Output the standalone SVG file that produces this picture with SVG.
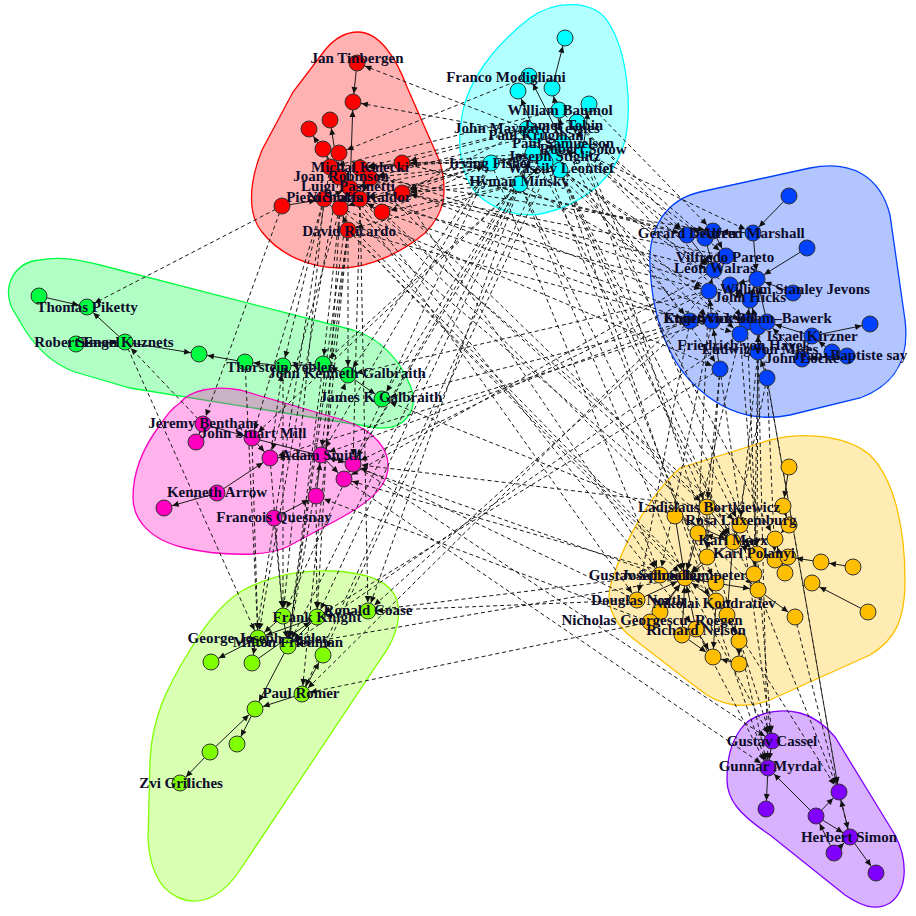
<svg xmlns="http://www.w3.org/2000/svg" width="916" height="916" viewBox="0 0 916 916">
<style>
.hull{stroke-width:1.3}
.e{stroke:#1a1a1a;stroke-width:1;fill:none;marker-end:url(#a)}
.d{stroke:#1a1a1a;stroke-width:1;stroke-dasharray:4 3;fill:none;marker-end:url(#a)}
.n circle{stroke:#333;stroke-width:1}
.R{fill:#FF0000}.O{fill:#FFBF00}.L{fill:#80FF00}.G{fill:#00FF40}.C{fill:#00FFFF}.B{fill:#0040FF}.P{fill:#8000FF}.K{fill:#FF00BF}
text{font-family:"Liberation Serif","Times New Roman",serif;font-weight:bold;font-size:15px;fill:#0d0d2b;text-anchor:middle}
</style>
<defs>
<marker id="a" viewBox="-16 -4 16 8" refX="0" refY="0" markerWidth="16" markerHeight="8" markerUnits="userSpaceOnUse" orient="auto"><path d="M-15,-3 L-8.5,0 L-15,3 Z" fill="#111"/></marker>
</defs>
<rect width="916" height="916" fill="#fff"/>
<g id="hulls">
<path id="hull-red" class="hull" fill="#FF0000" fill-opacity="0.3" stroke="#FF0000" d="M358,32 C345,32 335,38 325,50 L293,92 L262,150 C248,185 248,215 262,232 C280,255 310,268 340,268 C372,268 405,250 425,233 C445,213 448,192 440,162 L407,87 C395,55 378,32 358,32 Z"/>
<path id="hull-cyan" class="hull" fill="#00FFFF" fill-opacity="0.3" stroke="#00FFFF" d="M462,115 C468,80 495,45 530,18 C555,0 595,-2 610,25 C628,55 632,110 625,140 C615,180 580,205 545,213 C520,219 495,210 478,195 C460,175 457,145 462,115 Z"/>
<path id="hull-blue" class="hull" fill="#0040FF" fill-opacity="0.3" stroke="#0040FF" d="M650,265 C648,230 665,200 700,192 L810,168 C850,160 880,175 890,215 L905,320 C910,360 895,385 860,398 L790,415 C755,422 725,412 700,390 C670,365 652,320 650,265 Z"/>
<path id="hull-green" class="hull" fill="#00FF40" fill-opacity="0.3" stroke="#00FF40" d="M40,260 C60,256 80,260 100,265 L353,330 C380,338 400,360 410,385 C420,410 405,430 378,428 L130,388 L75,372 C55,365 38,350 25,330 L12,308 C2,285 15,262 40,260 Z"/>
<path id="hull-pink" class="hull" fill="#FF00BF" fill-opacity="0.3" stroke="#FF00BF" d="M180,403 C190,390 215,385 240,390 L343,420 C375,430 390,450 388,470 C385,490 365,505 337,520 L287,547 C265,557 220,556 185,548 C150,540 133,520 133,497 C133,470 145,445 160,425 C167,415 172,408 180,403 Z"/>
<path id="hull-lime" class="hull" fill="#80FF00" fill-opacity="0.3" stroke="#80FF00" d="M240,592 C270,575 300,570 330,571 C365,572 390,580 397,600 C402,620 395,640 380,660 L240,870 C225,893 205,905 185,900 C160,893 150,870 148,840 L150,760 C152,720 165,690 190,650 C205,625 220,605 240,592 Z"/>
<path id="hull-orange" class="hull" fill="#FFBF00" fill-opacity="0.3" stroke="#FFBF00" d="M612,580 C625,540 650,495 680,468 L770,440 C810,430 850,438 870,455 C895,480 905,530 905,580 C905,620 895,640 870,655 L770,700 C745,710 720,706 700,690 L635,640 C610,622 605,600 612,580 Z"/>
<path id="hull-purple" class="hull" fill="#8000FF" fill-opacity="0.3" stroke="#8000FF" d="M740,730 C750,715 775,707 800,713 C815,717 825,725 835,737 L895,835 C908,860 908,890 890,903 C875,912 860,905 845,895 L770,835 C740,815 727,800 727,780 C727,760 730,745 740,730 Z"/>
</g>
<g id="edges">
<!-- red internal -->
<line class="e" x1="357" y1="63" x2="353" y2="102"/>
<line class="e" x1="350" y1="188" x2="353" y2="102"/>
<line class="e" x1="339" y1="177" x2="330" y2="120"/>
<line class="e" x1="339" y1="177" x2="309" y2="129"/>
<line class="e" x1="323" y1="149" x2="339" y2="177"/>
<line class="e" x1="339" y1="153" x2="350" y2="188"/>
<line class="e" x1="360" y1="168" x2="370" y2="178"/>
<line class="e" x1="402" y1="163" x2="360" y2="168"/>
<line class="e" x1="402" y1="193" x2="360" y2="199"/>
<line class="e" x1="382" y1="212" x2="360" y2="199"/>
<line class="e" x1="330" y1="167" x2="339" y2="177"/>
<line class="e" x1="282" y1="206" x2="324" y2="199"/>
<line class="e" x1="340" y1="208" x2="350" y2="188"/>
<line class="e" x1="348" y1="230" x2="340" y2="208"/>
<line class="e" x1="370" y1="178" x2="360" y2="199"/>
<line class="e" x1="324" y1="199" x2="350" y2="188"/>
<!-- cyan internal -->
<line class="e" x1="552" y1="88" x2="565" y2="38"/>
<line class="e" x1="563" y1="143" x2="529" y2="76"/>
<line class="e" x1="536" y1="135" x2="518" y2="91"/>
<line class="e" x1="563" y1="143" x2="552" y2="88"/>
<line class="e" x1="583" y1="150" x2="589" y2="104"/>
<line class="e" x1="563" y1="143" x2="559" y2="110"/>
<line class="e" x1="583" y1="150" x2="577" y2="122"/>
<line class="e" x1="536" y1="135" x2="527" y2="129"/>
<line class="e" x1="533" y1="153" x2="536" y2="135"/>
<line class="e" x1="491" y1="163" x2="533" y2="153"/>
<line class="e" x1="520" y1="184" x2="545" y2="162"/>
<line class="e" x1="560" y1="170" x2="554" y2="157"/>
<line class="e" x1="545" y1="162" x2="563" y2="143"/>
<line class="e" x1="554" y1="157" x2="583" y2="150"/>
<line class="e" x1="533" y1="153" x2="563" y2="143"/>
<line class="e" x1="520" y1="184" x2="533" y2="153"/>
<!-- blue internal -->
<line class="e" x1="789" y1="196" x2="753" y2="233"/>
<line class="e" x1="807" y1="248" x2="757" y2="279"/>
<line class="e" x1="753" y1="233" x2="757" y2="279"/>
<line class="e" x1="713" y1="231" x2="726" y2="256"/>
<line class="e" x1="687" y1="235" x2="714" y2="270"/>
<line class="e" x1="705" y1="238" x2="714" y2="270"/>
<line class="e" x1="726" y1="256" x2="714" y2="270"/>
<line class="e" x1="757" y1="279" x2="730" y2="285"/>
<line class="e" x1="793" y1="293" x2="757" y2="279"/>
<line class="e" x1="750" y1="300" x2="757" y2="279"/>
<line class="e" x1="709" y1="291" x2="714" y2="270"/>
<line class="e" x1="730" y1="285" x2="750" y2="300"/>
<line class="e" x1="712" y1="321" x2="709" y2="291"/>
<line class="e" x1="690" y1="321" x2="712" y2="321"/>
<line class="e" x1="747" y1="322" x2="750" y2="300"/>
<line class="e" x1="758" y1="327" x2="750" y2="300"/>
<line class="e" x1="767" y1="322" x2="757" y2="279"/>
<line class="e" x1="740" y1="334" x2="747" y2="322"/>
<line class="e" x1="812" y1="336" x2="870" y2="324"/>
<line class="e" x1="758" y1="352" x2="758" y2="327"/>
<line class="e" x1="802" y1="359" x2="767" y2="322"/>
<line class="e" x1="832" y1="352" x2="812" y2="336"/>
<line class="e" x1="847" y1="356" x2="802" y2="359"/>
<line class="e" x1="720" y1="369" x2="712" y2="321"/>
<line class="e" x1="767" y1="378" x2="758" y2="352"/>
<line class="e" x1="812" y1="336" x2="767" y2="322"/>
<line class="e" x1="753" y1="233" x2="713" y2="231"/>
<!-- green internal -->
<line class="e" x1="39" y1="296" x2="87" y2="307"/>
<line class="e" x1="125" y1="342" x2="87" y2="307"/>
<line class="e" x1="76" y1="344" x2="125" y2="342"/>
<line class="e" x1="125" y1="342" x2="199" y2="354"/>
<line class="e" x1="245" y1="362" x2="199" y2="354"/>
<line class="e" x1="283" y1="366" x2="245" y2="362"/>
<line class="e" x1="323" y1="364" x2="283" y2="366"/>
<line class="e" x1="348" y1="375" x2="323" y2="364"/>
<line class="e" x1="348" y1="375" x2="382" y2="399"/>
<!-- pink internal -->
<line class="e" x1="203" y1="424" x2="196" y2="442"/>
<line class="e" x1="203" y1="424" x2="252" y2="438"/>
<line class="e" x1="252" y1="438" x2="270" y2="458"/>
<line class="e" x1="321" y1="455" x2="270" y2="458"/>
<line class="e" x1="252" y1="438" x2="353" y2="464"/>
<line class="e" x1="321" y1="455" x2="344" y2="479"/>
<line class="e" x1="316" y1="496" x2="321" y2="455"/>
<line class="e" x1="274" y1="518" x2="316" y2="496"/>
<line class="e" x1="217" y1="493" x2="164" y2="508"/>
<line class="e" x1="217" y1="493" x2="270" y2="458"/>
<!-- lime internal -->
<line class="e" x1="283" y1="616" x2="258" y2="638"/>
<line class="e" x1="317" y1="617" x2="258" y2="638"/>
<line class="e" x1="258" y1="638" x2="211" y2="662"/>
<line class="e" x1="317" y1="617" x2="288" y2="646"/>
<line class="e" x1="283" y1="616" x2="288" y2="646"/>
<line class="e" x1="252" y1="663" x2="317" y2="617"/>
<line class="e" x1="288" y1="646" x2="255" y2="709"/>
<line class="e" x1="302" y1="694" x2="255" y2="709"/>
<line class="e" x1="302" y1="694" x2="323" y2="655"/>
<line class="e" x1="255" y1="709" x2="237" y2="744"/>
<line class="e" x1="210" y1="752" x2="255" y2="709"/>
<line class="e" x1="210" y1="752" x2="180" y2="783"/>
<!-- orange internal -->
<line class="e" x1="789" y1="467" x2="783" y2="506"/>
<line class="e" x1="783" y1="506" x2="789" y2="525"/>
<line class="e" x1="675" y1="516" x2="685" y2="578"/>
<line class="e" x1="707" y1="507" x2="733" y2="542"/>
<line class="e" x1="740" y1="525" x2="733" y2="542"/>
<line class="e" x1="698" y1="533" x2="685" y2="578"/>
<line class="e" x1="733" y1="542" x2="698" y2="533"/>
<line class="e" x1="775" y1="539" x2="733" y2="542"/>
<line class="e" x1="757" y1="554" x2="733" y2="542"/>
<line class="e" x1="707" y1="557" x2="685" y2="578"/>
<line class="e" x1="733" y1="542" x2="685" y2="578"/>
<line class="e" x1="789" y1="525" x2="775" y2="539"/>
<line class="e" x1="775" y1="560" x2="757" y2="554"/>
<line class="e" x1="788" y1="557" x2="757" y2="554"/>
<line class="e" x1="821" y1="562" x2="788" y2="557"/>
<line class="e" x1="853" y1="567" x2="821" y2="562"/>
<line class="e" x1="754" y1="574" x2="757" y2="554"/>
<line class="e" x1="660" y1="575" x2="685" y2="578"/>
<line class="e" x1="716" y1="583" x2="685" y2="578"/>
<line class="e" x1="685" y1="578" x2="758" y2="590"/>
<line class="e" x1="758" y1="590" x2="795" y2="617"/>
<line class="e" x1="868" y1="612" x2="812" y2="583"/>
<line class="e" x1="637" y1="600" x2="685" y2="578"/>
<line class="e" x1="660" y1="612" x2="685" y2="578"/>
<line class="e" x1="650" y1="622" x2="685" y2="578"/>
<line class="e" x1="696" y1="629" x2="685" y2="578"/>
<line class="e" x1="682" y1="635" x2="685" y2="578"/>
<line class="e" x1="716" y1="601" x2="685" y2="578"/>
<line class="e" x1="727" y1="615" x2="716" y2="601"/>
<line class="e" x1="696" y1="629" x2="713" y2="657"/>
<line class="e" x1="682" y1="635" x2="713" y2="657"/>
<line class="e" x1="739" y1="664" x2="713" y2="657"/>
<line class="e" x1="716" y1="601" x2="713" y2="657"/>
<line class="e" x1="727" y1="615" x2="739" y2="641"/>
<line class="e" x1="739" y1="641" x2="739" y2="664"/>
<line class="e" x1="754" y1="574" x2="758" y2="590"/>
<line class="e" x1="733" y1="542" x2="727" y2="615"/>
<line class="e" x1="707" y1="507" x2="707" y2="557"/>
<line class="e" x1="675" y1="516" x2="733" y2="542"/>
<line class="e" x1="785" y1="573" x2="775" y2="539"/>
<!-- purple internal -->
<line class="e" x1="772" y1="741" x2="768" y2="768"/>
<line class="e" x1="768" y1="768" x2="766" y2="809"/>
<line class="e" x1="816" y1="816" x2="768" y2="768"/>
<line class="e" x1="816" y1="816" x2="839" y2="792"/>
<line class="e" x1="816" y1="816" x2="850" y2="837"/>
<line class="e" x1="850" y1="837" x2="839" y2="792"/>
<line class="e" x1="850" y1="837" x2="876" y2="873"/>
<line class="e" x1="834" y1="853" x2="850" y2="837"/>
<line class="e" x1="834" y1="853" x2="816" y2="816"/>
<!-- red-cyan -->
<line class="d" x1="563" y1="143" x2="357" y2="63"/>
<line class="d" x1="536" y1="135" x2="353" y2="102"/>
<line class="d" x1="527" y1="129" x2="402" y2="163"/>
<line class="d" x1="491" y1="163" x2="402" y2="163"/>
<line class="d" x1="527" y1="129" x2="360" y2="168"/>
<line class="d" x1="491" y1="163" x2="402" y2="193"/>
<line class="d" x1="554" y1="157" x2="370" y2="178"/>
<line class="d" x1="520" y1="184" x2="382" y2="212"/>
<line class="d" x1="533" y1="153" x2="360" y2="199"/>
<line class="d" x1="560" y1="170" x2="402" y2="193"/>
<line class="d" x1="382" y1="212" x2="491" y2="163"/>
<line class="d" x1="559" y1="110" x2="330" y2="167"/>
<line class="d" x1="520" y1="184" x2="348" y2="230"/>
<line class="d" x1="491" y1="163" x2="350" y2="188"/>
<line class="d" x1="529" y1="76" x2="339" y2="153"/>
<line class="d" x1="533" y1="153" x2="360" y2="168"/>
<line class="d" x1="545" y1="162" x2="402" y2="163"/>
<line class="d" x1="536" y1="135" x2="370" y2="178"/>
<line class="d" x1="527" y1="129" x2="402" y2="193"/>
<line class="d" x1="491" y1="163" x2="340" y2="208"/>
<line class="d" x1="520" y1="184" x2="402" y2="193"/>
<line class="d" x1="554" y1="157" x2="360" y2="168"/>
<!-- red-blue -->
<line class="d" x1="402" y1="163" x2="687" y2="235"/>
<line class="d" x1="402" y1="193" x2="714" y2="270"/>
<line class="d" x1="382" y1="212" x2="690" y2="321"/>
<line class="d" x1="360" y1="168" x2="750" y2="300"/>
<line class="d" x1="370" y1="178" x2="747" y2="322"/>
<line class="d" x1="360" y1="199" x2="709" y2="291"/>
<line class="d" x1="348" y1="230" x2="740" y2="334"/>
<line class="d" x1="340" y1="208" x2="720" y2="369"/>
<line class="d" x1="726" y1="256" x2="402" y2="193"/>
<line class="d" x1="350" y1="188" x2="712" y2="321"/>
<line class="d" x1="402" y1="163" x2="705" y2="238"/>
<line class="d" x1="370" y1="178" x2="713" y2="231"/>
<!-- red-orange -->
<line class="d" x1="348" y1="230" x2="685" y2="578"/>
<line class="d" x1="340" y1="208" x2="733" y2="542"/>
<line class="d" x1="382" y1="212" x2="707" y2="507"/>
<line class="d" x1="360" y1="199" x2="758" y2="590"/>
<line class="d" x1="324" y1="199" x2="716" y2="601"/>
<line class="d" x1="402" y1="193" x2="660" y2="575"/>
<line class="d" x1="350" y1="188" x2="740" y2="525"/>
<line class="d" x1="370" y1="178" x2="757" y2="554"/>
<line class="d" x1="339" y1="177" x2="696" y2="629"/>
<line class="d" x1="330" y1="167" x2="637" y2="600"/>
<line class="d" x1="348" y1="230" x2="727" y2="615"/>
<!-- red-lime -->
<line class="d" x1="348" y1="230" x2="288" y2="646"/>
<line class="d" x1="340" y1="208" x2="317" y2="617"/>
<line class="d" x1="324" y1="199" x2="283" y2="616"/>
<line class="d" x1="339" y1="177" x2="258" y2="638"/>
<line class="d" x1="350" y1="188" x2="288" y2="646"/>
<line class="d" x1="330" y1="167" x2="252" y2="663"/>
<line class="d" x1="360" y1="199" x2="368" y2="611"/>
<line class="d" x1="348" y1="230" x2="302" y2="694"/>
<!-- red-pink -->
<line class="d" x1="348" y1="230" x2="321" y2="455"/>
<line class="d" x1="324" y1="199" x2="252" y2="438"/>
<line class="d" x1="282" y1="206" x2="203" y2="424"/>
<line class="d" x1="340" y1="208" x2="270" y2="458"/>
<line class="d" x1="360" y1="199" x2="353" y2="464"/>
<!-- red-green -->
<line class="d" x1="282" y1="206" x2="87" y2="307"/>
<line class="d" x1="348" y1="230" x2="348" y2="375"/>
<line class="d" x1="340" y1="208" x2="323" y2="364"/>
<line class="d" x1="324" y1="199" x2="283" y2="366"/>
<!-- cyan-blue -->
<line class="d" x1="563" y1="143" x2="753" y2="233"/>
<line class="d" x1="583" y1="150" x2="714" y2="270"/>
<line class="d" x1="560" y1="170" x2="750" y2="300"/>
<line class="d" x1="554" y1="157" x2="690" y2="321"/>
<line class="d" x1="577" y1="122" x2="687" y2="235"/>
<line class="d" x1="589" y1="104" x2="713" y2="231"/>
<line class="d" x1="583" y1="150" x2="747" y2="322"/>
<line class="d" x1="560" y1="170" x2="740" y2="334"/>
<line class="d" x1="563" y1="143" x2="720" y2="369"/>
<line class="d" x1="545" y1="162" x2="712" y2="321"/>
<line class="d" x1="520" y1="184" x2="709" y2="291"/>
<line class="d" x1="559" y1="110" x2="726" y2="256"/>
<line class="d" x1="583" y1="150" x2="705" y2="238"/>
<line class="d" x1="563" y1="143" x2="687" y2="235"/>
<line class="d" x1="560" y1="170" x2="714" y2="270"/>
<!-- cyan-orange -->
<line class="d" x1="560" y1="170" x2="733" y2="542"/>
<line class="d" x1="520" y1="184" x2="685" y2="578"/>
<line class="d" x1="554" y1="157" x2="707" y2="507"/>
<line class="d" x1="533" y1="153" x2="758" y2="590"/>
<line class="d" x1="583" y1="150" x2="757" y2="554"/>
<line class="d" x1="545" y1="162" x2="716" y2="601"/>
<line class="d" x1="560" y1="170" x2="740" y2="525"/>
<line class="d" x1="520" y1="184" x2="716" y2="583"/>
<line class="d" x1="563" y1="143" x2="775" y2="539"/>
<line class="d" x1="491" y1="163" x2="660" y2="575"/>
<!-- cyan-lime -->
<line class="d" x1="520" y1="184" x2="317" y2="617"/>
<line class="d" x1="491" y1="163" x2="283" y2="616"/>
<line class="d" x1="533" y1="153" x2="288" y2="646"/>
<line class="d" x1="520" y1="184" x2="368" y2="611"/>
<line class="d" x1="554" y1="157" x2="323" y2="655"/>
<line class="d" x1="545" y1="162" x2="302" y2="694"/>
<!-- cyan-pink / green / purple -->
<line class="d" x1="491" y1="163" x2="321" y2="455"/>
<line class="d" x1="520" y1="184" x2="252" y2="438"/>
<line class="d" x1="533" y1="153" x2="353" y2="464"/>
<line class="d" x1="520" y1="184" x2="344" y2="479"/>
<line class="d" x1="491" y1="163" x2="348" y2="375"/>
<line class="d" x1="520" y1="184" x2="323" y2="364"/>
<line class="d" x1="533" y1="153" x2="382" y2="399"/>
<line class="d" x1="560" y1="170" x2="768" y2="768"/>
<line class="d" x1="583" y1="150" x2="772" y2="741"/>
<!-- blue-orange -->
<line class="d" x1="720" y1="369" x2="707" y2="507"/>
<line class="d" x1="767" y1="378" x2="733" y2="542"/>
<line class="d" x1="758" y1="352" x2="740" y2="525"/>
<line class="d" x1="740" y1="334" x2="685" y2="578"/>
<line class="d" x1="709" y1="291" x2="698" y2="533"/>
<line class="d" x1="690" y1="321" x2="637" y2="600"/>
<line class="d" x1="758" y1="327" x2="757" y2="554"/>
<line class="d" x1="720" y1="369" x2="707" y2="557"/>
<line class="d" x1="767" y1="378" x2="775" y2="560"/>
<line class="d" x1="712" y1="321" x2="660" y2="575"/>
<line class="d" x1="758" y1="352" x2="754" y2="574"/>
<line class="d" x1="747" y1="322" x2="758" y2="590"/>
<!-- blue-purple -->
<line class="d" x1="720" y1="369" x2="772" y2="741"/>
<line class="d" x1="767" y1="378" x2="839" y2="792"/>
<line class="d" x1="758" y1="352" x2="768" y2="768"/>
<line class="d" x1="740" y1="334" x2="772" y2="741"/>
<line class="d" x1="758" y1="327" x2="839" y2="792"/>
<!-- blue-pink / lime / green -->
<line class="d" x1="690" y1="321" x2="321" y2="455"/>
<line class="d" x1="709" y1="291" x2="353" y2="464"/>
<line class="d" x1="714" y1="270" x2="344" y2="479"/>
<line class="d" x1="712" y1="321" x2="270" y2="458"/>
<line class="d" x1="690" y1="321" x2="368" y2="611"/>
<line class="d" x1="720" y1="369" x2="317" y2="617"/>
<line class="d" x1="740" y1="334" x2="288" y2="646"/>
<line class="d" x1="709" y1="291" x2="302" y2="694"/>
<line class="d" x1="709" y1="291" x2="348" y2="375"/>
<line class="d" x1="690" y1="321" x2="382" y2="399"/>
<!-- orange-purple -->
<line class="d" x1="685" y1="578" x2="772" y2="741"/>
<line class="d" x1="739" y1="641" x2="768" y2="768"/>
<line class="d" x1="696" y1="629" x2="768" y2="768"/>
<line class="d" x1="727" y1="615" x2="839" y2="792"/>
<line class="d" x1="758" y1="590" x2="839" y2="792"/>
<line class="d" x1="795" y1="617" x2="850" y2="837"/>
<!-- orange-pink / lime / green -->
<line class="d" x1="660" y1="575" x2="321" y2="455"/>
<line class="d" x1="637" y1="600" x2="353" y2="464"/>
<line class="d" x1="685" y1="578" x2="344" y2="479"/>
<line class="d" x1="707" y1="507" x2="353" y2="464"/>
<line class="d" x1="650" y1="622" x2="316" y2="496"/>
<line class="d" x1="637" y1="600" x2="368" y2="611"/>
<line class="d" x1="650" y1="622" x2="302" y2="694"/>
<line class="d" x1="660" y1="575" x2="317" y2="617"/>
<line class="d" x1="685" y1="578" x2="288" y2="646"/>
<line class="d" x1="675" y1="516" x2="382" y2="399"/>
<!-- pink-lime / green -->
<line class="d" x1="321" y1="455" x2="288" y2="646"/>
<line class="d" x1="270" y1="458" x2="283" y2="616"/>
<line class="d" x1="274" y1="518" x2="283" y2="616"/>
<line class="d" x1="252" y1="438" x2="258" y2="638"/>
<line class="d" x1="316" y1="496" x2="317" y2="617"/>
<line class="d" x1="270" y1="458" x2="283" y2="366"/>
<line class="d" x1="321" y1="455" x2="348" y2="375"/>
<line class="d" x1="203" y1="424" x2="125" y2="342"/>
<!-- green-lime -->
<line class="d" x1="283" y1="366" x2="283" y2="616"/>
<line class="d" x1="245" y1="362" x2="258" y2="638"/>
<line class="d" x1="125" y1="342" x2="258" y2="638"/>
<line class="d" x1="323" y1="364" x2="288" y2="646"/>
<!-- pink-purple -->
<line class="d" x1="353" y1="464" x2="772" y2="741"/>
<line class="d" x1="344" y1="479" x2="768" y2="768"/>
</g>
<g id="nodes">
<g id="n-r1" class="n"><circle class="R" cx="357" cy="63" r="8"/></g>
<g id="n-r2" class="n"><circle class="R" cx="353" cy="102" r="8"/></g>
<g id="n-r3" class="n"><circle class="R" cx="330" cy="120" r="8"/></g>
<g id="n-r4" class="n"><circle class="R" cx="309" cy="129" r="8"/></g>
<g id="n-r5" class="n"><circle class="R" cx="323" cy="149" r="8"/></g>
<g id="n-r6" class="n"><circle class="R" cx="339" cy="153" r="8"/></g>
<g id="n-r7" class="n"><circle class="R" cx="360" cy="168" r="8"/></g>
<g id="n-r8" class="n"><circle class="R" cx="402" cy="163" r="8"/></g>
<g id="n-r9" class="n"><circle class="R" cx="330" cy="167" r="8"/></g>
<g id="n-r10" class="n"><circle class="R" cx="339" cy="177" r="8"/></g>
<g id="n-r11" class="n"><circle class="R" cx="370" cy="178" r="8"/></g>
<g id="n-r12" class="n"><circle class="R" cx="350" cy="188" r="8"/></g>
<g id="n-r13" class="n"><circle class="R" cx="402" cy="193" r="8"/></g>
<g id="n-r14" class="n"><circle class="R" cx="324" cy="199" r="8"/></g>
<g id="n-r15" class="n"><circle class="R" cx="360" cy="199" r="8"/></g>
<g id="n-r16" class="n"><circle class="R" cx="340" cy="208" r="8"/></g>
<g id="n-r17" class="n"><circle class="R" cx="282" cy="206" r="8"/></g>
<g id="n-r18" class="n"><circle class="R" cx="382" cy="212" r="8"/></g>
<g id="n-r19" class="n"><circle class="R" cx="348" cy="230" r="8"/></g>
<g id="n-c1" class="n"><circle class="C" cx="565" cy="38" r="8"/></g>
<g id="n-c2" class="n"><circle class="C" cx="529" cy="76" r="8"/></g>
<g id="n-c3" class="n"><circle class="C" cx="518" cy="91" r="8"/></g>
<g id="n-c4" class="n"><circle class="C" cx="552" cy="88" r="8"/></g>
<g id="n-c5" class="n"><circle class="C" cx="589" cy="104" r="8"/></g>
<g id="n-c6" class="n"><circle class="C" cx="559" cy="110" r="8"/></g>
<g id="n-c7" class="n"><circle class="C" cx="577" cy="122" r="8"/></g>
<g id="n-c8" class="n"><circle class="C" cx="527" cy="129" r="8"/></g>
<g id="n-c9" class="n"><circle class="C" cx="536" cy="135" r="8"/></g>
<g id="n-c10" class="n"><circle class="C" cx="563" cy="143" r="8"/></g>
<g id="n-c11" class="n"><circle class="C" cx="583" cy="150" r="8"/></g>
<g id="n-c12" class="n"><circle class="C" cx="554" cy="157" r="8"/></g>
<g id="n-c13" class="n"><circle class="C" cx="491" cy="163" r="8"/></g>
<g id="n-c14" class="n"><circle class="C" cx="560" cy="170" r="8"/></g>
<g id="n-c15" class="n"><circle class="C" cx="520" cy="184" r="8"/></g>
<g id="n-c16" class="n"><circle class="C" cx="533" cy="153" r="8"/></g>
<g id="n-c17" class="n"><circle class="C" cx="545" cy="162" r="8"/></g>
<g id="n-b1" class="n"><circle class="B" cx="789" cy="196" r="8"/></g>
<g id="n-b2" class="n"><circle class="B" cx="687" cy="235" r="8"/></g>
<g id="n-b3" class="n"><circle class="B" cx="705" cy="238" r="8"/></g>
<g id="n-b4" class="n"><circle class="B" cx="713" cy="231" r="8"/></g>
<g id="n-b5" class="n"><circle class="B" cx="753" cy="233" r="8"/></g>
<g id="n-b6" class="n"><circle class="B" cx="807" cy="248" r="8"/></g>
<g id="n-b7" class="n"><circle class="B" cx="726" cy="256" r="8"/></g>
<g id="n-b8" class="n"><circle class="B" cx="714" cy="270" r="8"/></g>
<g id="n-b9" class="n"><circle class="B" cx="757" cy="279" r="8"/></g>
<g id="n-b10" class="n"><circle class="B" cx="730" cy="285" r="8"/></g>
<g id="n-b11" class="n"><circle class="B" cx="709" cy="291" r="8"/></g>
<g id="n-b12" class="n"><circle class="B" cx="793" cy="293" r="8"/></g>
<g id="n-b13" class="n"><circle class="B" cx="750" cy="300" r="8"/></g>
<g id="n-b14" class="n"><circle class="B" cx="690" cy="321" r="8"/></g>
<g id="n-b15" class="n"><circle class="B" cx="712" cy="321" r="8"/></g>
<g id="n-b16" class="n"><circle class="B" cx="747" cy="322" r="8"/></g>
<g id="n-b17" class="n"><circle class="B" cx="758" cy="327" r="8"/></g>
<g id="n-b18" class="n"><circle class="B" cx="767" cy="322" r="8"/></g>
<g id="n-b19" class="n"><circle class="B" cx="870" cy="324" r="8"/></g>
<g id="n-b20" class="n"><circle class="B" cx="740" cy="334" r="8"/></g>
<g id="n-b21" class="n"><circle class="B" cx="812" cy="336" r="8"/></g>
<g id="n-b22" class="n"><circle class="B" cx="758" cy="352" r="8"/></g>
<g id="n-b23" class="n"><circle class="B" cx="802" cy="359" r="8"/></g>
<g id="n-b24" class="n"><circle class="B" cx="832" cy="352" r="8"/></g>
<g id="n-b25" class="n"><circle class="B" cx="847" cy="356" r="8"/></g>
<g id="n-b26" class="n"><circle class="B" cx="720" cy="369" r="8"/></g>
<g id="n-b27" class="n"><circle class="B" cx="767" cy="378" r="8"/></g>
<g id="n-g1" class="n"><circle class="G" cx="39" cy="296" r="8"/></g>
<g id="n-g2" class="n"><circle class="G" cx="87" cy="307" r="8"/></g>
<g id="n-g3" class="n"><circle class="G" cx="76" cy="344" r="8"/></g>
<g id="n-g4" class="n"><circle class="G" cx="125" cy="342" r="8"/></g>
<g id="n-g5" class="n"><circle class="G" cx="199" cy="354" r="8"/></g>
<g id="n-g6" class="n"><circle class="G" cx="245" cy="362" r="8"/></g>
<g id="n-g7" class="n"><circle class="G" cx="283" cy="366" r="8"/></g>
<g id="n-g8" class="n"><circle class="G" cx="323" cy="364" r="8"/></g>
<g id="n-g9" class="n"><circle class="G" cx="348" cy="375" r="8"/></g>
<g id="n-g10" class="n"><circle class="G" cx="382" cy="399" r="8"/></g>
<g id="n-k1" class="n"><circle class="K" cx="203" cy="424" r="8"/></g>
<g id="n-k2" class="n"><circle class="K" cx="196" cy="442" r="8"/></g>
<g id="n-k3" class="n"><circle class="K" cx="252" cy="438" r="8"/></g>
<g id="n-k4" class="n"><circle class="K" cx="270" cy="458" r="8"/></g>
<g id="n-k5" class="n"><circle class="K" cx="321" cy="455" r="8"/></g>
<g id="n-k6" class="n"><circle class="K" cx="353" cy="464" r="8"/></g>
<g id="n-k7" class="n"><circle class="K" cx="344" cy="479" r="8"/></g>
<g id="n-k8" class="n"><circle class="K" cx="217" cy="493" r="8"/></g>
<g id="n-k9" class="n"><circle class="K" cx="164" cy="508" r="8"/></g>
<g id="n-k10" class="n"><circle class="K" cx="316" cy="496" r="8"/></g>
<g id="n-k11" class="n"><circle class="K" cx="274" cy="518" r="8"/></g>
<g id="n-l1" class="n"><circle class="L" cx="368" cy="611" r="8"/></g>
<g id="n-l2" class="n"><circle class="L" cx="283" cy="616" r="8"/></g>
<g id="n-l3" class="n"><circle class="L" cx="317" cy="617" r="8"/></g>
<g id="n-l4" class="n"><circle class="L" cx="258" cy="638" r="8"/></g>
<g id="n-l5" class="n"><circle class="L" cx="288" cy="646" r="8"/></g>
<g id="n-l6" class="n"><circle class="L" cx="211" cy="662" r="8"/></g>
<g id="n-l7" class="n"><circle class="L" cx="252" cy="663" r="8"/></g>
<g id="n-l8" class="n"><circle class="L" cx="323" cy="655" r="8"/></g>
<g id="n-l9" class="n"><circle class="L" cx="302" cy="694" r="8"/></g>
<g id="n-l10" class="n"><circle class="L" cx="255" cy="709" r="8"/></g>
<g id="n-l11" class="n"><circle class="L" cx="237" cy="744" r="8"/></g>
<g id="n-l12" class="n"><circle class="L" cx="210" cy="752" r="8"/></g>
<g id="n-l13" class="n"><circle class="L" cx="180" cy="783" r="8"/></g>
<g id="n-o1" class="n"><circle class="O" cx="789" cy="467" r="8"/></g>
<g id="n-o2" class="n"><circle class="O" cx="783" cy="506" r="8"/></g>
<g id="n-o3" class="n"><circle class="O" cx="707" cy="507" r="8"/></g>
<g id="n-o4" class="n"><circle class="O" cx="675" cy="516" r="8"/></g>
<g id="n-o5" class="n"><circle class="O" cx="740" cy="525" r="8"/></g>
<g id="n-o6" class="n"><circle class="O" cx="789" cy="525" r="8"/></g>
<g id="n-o7" class="n"><circle class="O" cx="698" cy="533" r="8"/></g>
<g id="n-o8" class="n"><circle class="O" cx="733" cy="542" r="8"/></g>
<g id="n-o9" class="n"><circle class="O" cx="775" cy="539" r="8"/></g>
<g id="n-o10" class="n"><circle class="O" cx="757" cy="554" r="8"/></g>
<g id="n-o11" class="n"><circle class="O" cx="707" cy="557" r="8"/></g>
<g id="n-o12" class="n"><circle class="O" cx="775" cy="560" r="8"/></g>
<g id="n-o13" class="n"><circle class="O" cx="788" cy="557" r="8"/></g>
<g id="n-o14" class="n"><circle class="O" cx="821" cy="562" r="8"/></g>
<g id="n-o15" class="n"><circle class="O" cx="853" cy="567" r="8"/></g>
<g id="n-o16" class="n"><circle class="O" cx="754" cy="574" r="8"/></g>
<g id="n-o17" class="n"><circle class="O" cx="785" cy="573" r="8"/></g>
<g id="n-o18" class="n"><circle class="O" cx="685" cy="578" r="8"/></g>
<g id="n-o19" class="n"><circle class="O" cx="660" cy="575" r="8"/></g>
<g id="n-o20" class="n"><circle class="O" cx="716" cy="583" r="8"/></g>
<g id="n-o21" class="n"><circle class="O" cx="758" cy="590" r="8"/></g>
<g id="n-o22" class="n"><circle class="O" cx="812" cy="583" r="8"/></g>
<g id="n-o23" class="n"><circle class="O" cx="868" cy="612" r="8"/></g>
<g id="n-o24" class="n"><circle class="O" cx="637" cy="600" r="8"/></g>
<g id="n-o25" class="n"><circle class="O" cx="716" cy="601" r="8"/></g>
<g id="n-o26" class="n"><circle class="O" cx="660" cy="612" r="8"/></g>
<g id="n-o27" class="n"><circle class="O" cx="727" cy="615" r="8"/></g>
<g id="n-o28" class="n"><circle class="O" cx="795" cy="617" r="8"/></g>
<g id="n-o29" class="n"><circle class="O" cx="650" cy="622" r="8"/></g>
<g id="n-o30" class="n"><circle class="O" cx="696" cy="629" r="8"/></g>
<g id="n-o31" class="n"><circle class="O" cx="682" cy="635" r="8"/></g>
<g id="n-o32" class="n"><circle class="O" cx="739" cy="641" r="8"/></g>
<g id="n-o33" class="n"><circle class="O" cx="713" cy="657" r="8"/></g>
<g id="n-o34" class="n"><circle class="O" cx="739" cy="664" r="8"/></g>
<g id="n-p1" class="n"><circle class="P" cx="772" cy="741" r="8"/></g>
<g id="n-p2" class="n"><circle class="P" cx="768" cy="768" r="8"/></g>
<g id="n-p3" class="n"><circle class="P" cx="766" cy="809" r="8"/></g>
<g id="n-p4" class="n"><circle class="P" cx="839" cy="792" r="8"/></g>
<g id="n-p5" class="n"><circle class="P" cx="816" cy="816" r="8"/></g>
<g id="n-p6" class="n"><circle class="P" cx="850" cy="837" r="8"/></g>
<g id="n-p7" class="n"><circle class="P" cx="834" cy="853" r="8"/></g>
<g id="n-p8" class="n"><circle class="P" cx="876" cy="873" r="8"/></g>
</g>
<g id="labels">
<text x="357" y="63">Jan Tinbergen</text>
<text x="360" y="172">Michal Kalecki</text>
<text x="341" y="181">Joan Robinson</text>
<text x="348" y="191">Luigi Pasinetti</text>
<text x="325" y="202">Piero Sraffa</text>
<text x="359" y="202">Nicholas Kaldor</text>
<text x="349" y="236">David Ricardo</text>
<text x="506" y="82">Franco Modigliani</text>
<text x="560" y="115">William Baumol</text>
<text x="563" y="130">James Tobin</text>
<text x="527" y="133">John Maynard Keynes</text>
<text x="536" y="140">Paul Krugman</text>
<text x="563" y="148">Paul Samuelson</text>
<text x="583" y="154">Robert Solow</text>
<text x="554" y="161">Joseph Stiglitz</text>
<text x="491" y="168">Irving Fisher</text>
<text x="561" y="173">Wassily Leontief</text>
<text x="519" y="186">Hyman Minsky</text>
<text x="687" y="238">Gérard Debreu</text>
<text x="753" y="238">Alfred Marshall</text>
<text x="725" y="262">Vilfredo Pareto</text>
<text x="715" y="273">Léon Walras</text>
<text x="795" y="294">William Stanley Jevons</text>
<text x="750" y="302">John Hicks</text>
<text x="709" y="323">Knut Wicksell</text>
<text x="748" y="323">Eugen von Böhm–Bawerk</text>
<text x="812" y="341">Israel Kirzner</text>
<text x="744" y="350">Friedrich von Hayek</text>
<text x="760" y="354">Ludwig von Mises</text>
<text x="850" y="360">Jean–Baptiste say</text>
<text x="802" y="363">John Locke</text>
<text x="87" y="312">Thomas Piketty</text>
<text x="77" y="347">Robert Engel</text>
<text x="125" y="347">Simon Kuznets</text>
<text x="281" y="372">Thorstein Veblen</text>
<text x="347" y="378">John Kenneth Galbraith</text>
<text x="381" y="402">James K Galbraith</text>
<text x="203" y="428">Jeremy Bentham</text>
<text x="253" y="438">John Stuart Mill</text>
<text x="321" y="460">Adam Smith</text>
<text x="217" y="497">Kenneth Arrow</text>
<text x="274" y="522">Francois Quesnay</text>
<text x="368" y="615">Ronald Coase</text>
<text x="317" y="622">Frank Knight</text>
<text x="258" y="643">George Joseph Stigler</text>
<text x="288" y="647">Milton Friedman</text>
<text x="301" y="698">Paul Romer</text>
<text x="181" y="788">Zvi Griliches</text>
<text x="709" y="512">Ladislaus Bortkiewicz</text>
<text x="741" y="525">Rosa Luxemburg</text>
<text x="733" y="545">Karl Marx</text>
<text x="754" y="558">Karl Polanyi</text>
<text x="646" y="580">Gustav Schmoller</text>
<text x="684" y="580">Joseph Schumpeter</text>
<text x="638" y="605">Douglas North</text>
<text x="714" y="608">Nikolai Kondratiev</text>
<text x="652" y="625">Nicholas Georgescu–Roegen</text>
<text x="696" y="635">Richard Nelson</text>
<text x="772" y="746">Gustav Cassel</text>
<text x="770" y="771">Gunnar Myrdal</text>
<text x="849" y="842">Herbert Simon</text>
</g>
</svg>
